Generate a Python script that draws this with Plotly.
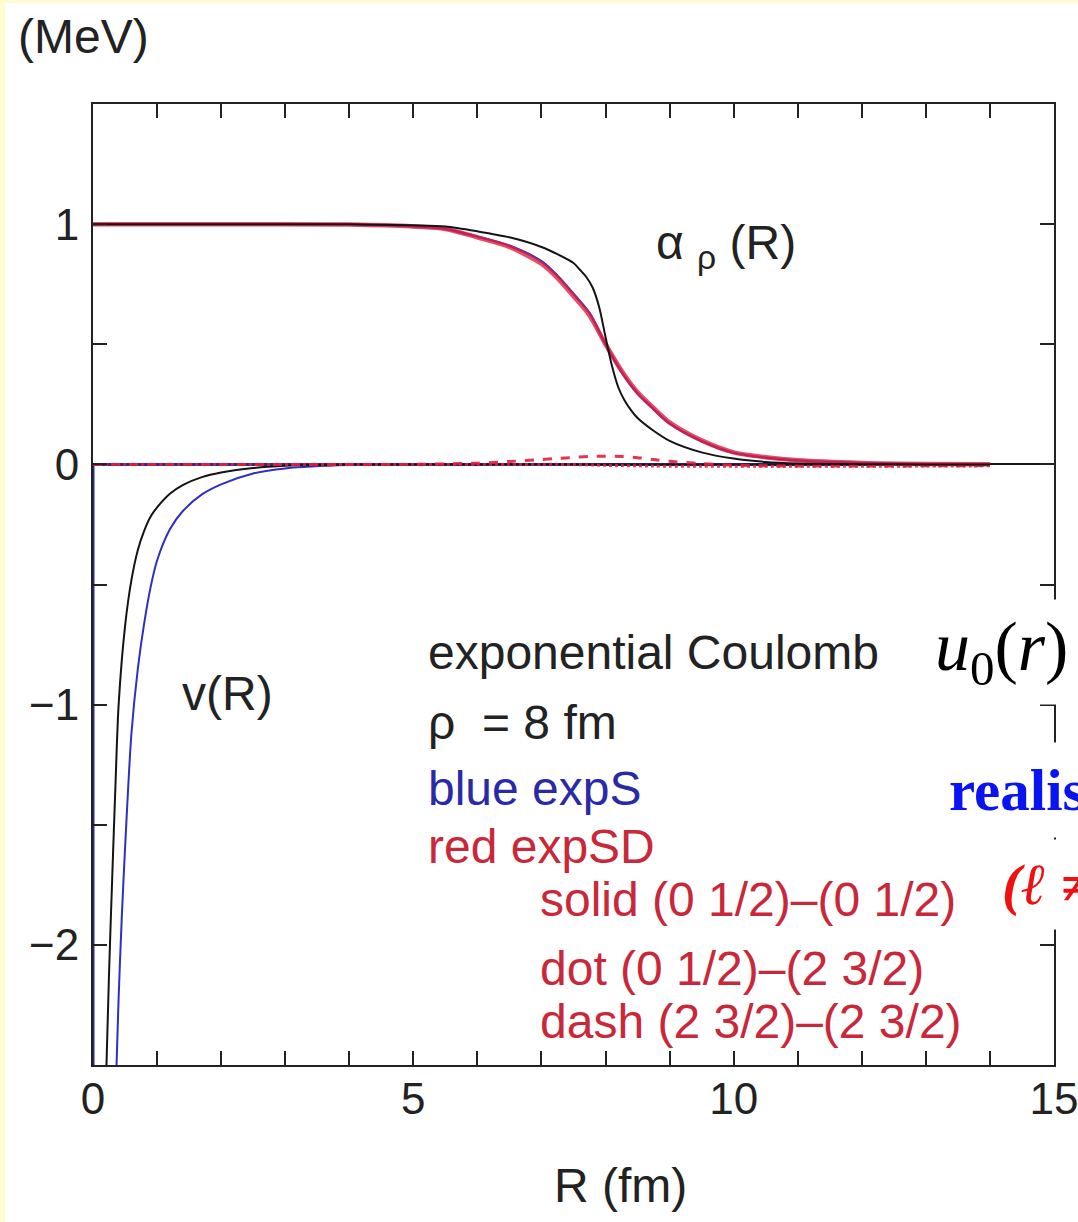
import plotly.graph_objects as go

# ---------------- data ----------------
# alpha_rho(R) for the exponential Coulomb case (black)
R_alpha_exp = [0, 2, 4, 5, 5.5, 6, 6.5, 7, 7.25, 7.5, 7.6, 7.7, 7.8, 7.9, 8.0, 8.1,
               8.2, 8.3, 8.4, 8.5, 8.75, 9, 9.5, 10, 10.5, 11, 12, 13, 14]
alpha_exp = [1.0, 1.0, 0.999, 0.995, 0.99, 0.97, 0.945, 0.905, 0.875, 0.838, 0.81,
             0.78, 0.735, 0.655, 0.53, 0.41, 0.32, 0.265, 0.225, 0.193, 0.14, 0.098,
             0.05, 0.024, 0.01, 0.004, 0.001, 0.0, 0.0]

# alpha_rho(R) for expS (blue) and expSD (red)
R_alpha = [0, 2, 4, 5, 5.5, 6, 6.5, 7, 7.25, 7.5, 7.75, 8, 8.25, 8.5, 8.75, 9, 9.5,
           10, 10.5, 11, 12, 13, 14]
alpha_expS = [1.0, 1.0, 0.998, 0.99, 0.98, 0.948, 0.91, 0.845, 0.785, 0.71, 0.63, 0.5,
              0.385, 0.295, 0.23, 0.17, 0.097, 0.048, 0.028, 0.016, 0.006, 0.002, 0.001]
alpha_expSD_solid = [1.0, 1.0, 0.998, 0.99, 0.98, 0.945, 0.905, 0.835, 0.775, 0.70,
                     0.62, 0.50, 0.39, 0.30, 0.235, 0.175, 0.10, 0.05, 0.03, 0.017,
                     0.006, 0.002, 0.001]
alpha_expSD_dot = [0, 0, 0, 0, 0, 0, 0, 0, 0, -0.001, -0.002, -0.004, -0.005, -0.006,
                   -0.007, -0.008, -0.008, -0.008, -0.008, -0.008, -0.008, -0.007, -0.006]
alpha_expSD_dash = [0, 0, 0, 0, 0.002, 0.005, 0.012, 0.02, 0.025, 0.029, 0.033, 0.034,
                    0.033, 0.028, 0.02, 0.013, 0.003, -0.003, -0.006, -0.007, -0.007,
                    -0.006, -0.005]

# v(R) : exponential Coulomb (black) and expS (blue)
R_v_exp = [0.2, 0.25, 0.3, 0.35, 0.4, 0.5, 0.6, 0.7, 0.8, 0.9, 1.0, 1.2, 1.4, 1.7,
           2.0, 2.5, 3.0, 4, 6, 8, 10, 12, 14]
v_exp = [-2.6, -2.12, -1.72, -1.34, -1.0, -0.674, -0.481, -0.356, -0.276, -0.217,
         -0.179, -0.122, -0.086, -0.053, -0.034, -0.015, -0.006, -0.001, 0, 0, 0, 0, 0]
R_v_expS = [0.35, 0.4, 0.45, 0.5, 0.6, 0.7, 0.8, 0.9, 1.0, 1.2, 1.4, 1.7, 2.0, 2.5,
            3.0, 4, 6, 8, 10, 12, 14]
v_expS = [-2.65, -2.22, -1.88, -1.6, -1.12, -0.85, -0.66, -0.51, -0.40, -0.27, -0.195,
          -0.125, -0.083, -0.038, -0.017, -0.003, 0, 0, 0, 0, 0]
# short-range part at the origin
R_v_core = [0.0, 0.0, 0.5, 14.0]
v_core = [-3.0, 0.0, 0.0, 0.0]

x_tick_vals = list(range(0, 16))
x_tick_text = ["0", "", "", "", "", "5", "", "", "", "", "10", "", "", "", "", "15"]
y_tick_vals = [-2.5, -2.0, -1.5, -1.0, -0.5, 0.0, 0.5, 1.0, 1.5]
y_tick_text = ["", "\u22122", "", "\u22121", "", "0", "", "1", ""]

# ---------------- style ----------------
BLACK = "#141414"
BLUE = "#2f2fc4"
RED = "#e2203c"
TXT = "#222222"
TXT_BLUE = "#2a2aa6"
TXT_RED = "#c9283a"
SANS = "Liberation Sans, Arial, sans-serif"
SERIF = "Liberation Serif, Times New Roman, serif"
FS_TICK = 44
FS = 48

W, H = 1078, 1222
L, R_, T, B = 93, 24, 104, 157
PW, PH = W - L - R_, H - T - B


def px_x(px):
    return (px - L) / PW


def px_y(py):
    return (H - B - py) / PH


fig = go.Figure()

fig.add_trace(go.Scatter(x=R_v_core, y=v_core, mode="lines",
                         line=dict(color="#2a2a90", width=3), name="v core"))
fig.add_trace(go.Scatter(x=R_v_expS, y=v_expS, mode="lines", line_shape="spline",
                         line=dict(color=BLUE, width=2, smoothing=0.8), name="v expS"))
fig.add_trace(go.Scatter(x=R_v_exp, y=v_exp, mode="lines", line_shape="spline",
                         line=dict(color=BLACK, width=2, smoothing=0.8), name="v exp"))
fig.add_trace(go.Scatter(x=R_alpha, y=alpha_expSD_dot, mode="lines", line_shape="spline",
                         line=dict(color=RED, width=3, dash="dot", smoothing=0.8),
                         opacity=0.85, name="dot"))
fig.add_trace(go.Scatter(x=R_alpha, y=alpha_expSD_dash, mode="lines", line_shape="spline",
                         line=dict(color=RED, width=3, dash="dash", smoothing=0.8),
                         opacity=0.9, name="dash"))
fig.add_trace(go.Scatter(x=R_alpha, y=alpha_expS, mode="lines", line_shape="spline",
                         line=dict(color=BLUE, width=2.5, smoothing=0.8), name="alpha expS"))
fig.add_trace(go.Scatter(x=R_alpha, y=alpha_expSD_solid, mode="lines", line_shape="spline",
                         line=dict(color=RED, width=4.5, smoothing=0.8), opacity=0.8,
                         name="alpha expSD"))
fig.add_trace(go.Scatter(x=R_alpha_exp, y=alpha_exp, mode="lines", line_shape="spline",
                         line=dict(color=BLACK, width=2, smoothing=0.8), name="alpha exp"))

axis_common = dict(showline=True, linecolor="#222222", linewidth=2, mirror="ticks",
                   ticks="inside", ticklen=14, tickwidth=2, tickcolor="#222222",
                   showgrid=False, ticklabeloverflow="allow", automargin=False,
                   tickfont=dict(family=SANS, size=FS_TICK, color=TXT))

fig.update_xaxes(range=[0, 15], tickmode="array", tickvals=x_tick_vals,
                 ticktext=x_tick_text, zeroline=False, ticklabelstandoff=-6,
                 **axis_common)
fig.update_yaxes(range=[-2.5, 1.5], tickmode="array", tickvals=y_tick_vals,
                 ticktext=y_tick_text, zeroline=True, zerolinecolor=BLACK,
                 zerolinewidth=1.5, ticklabelstandoff=3, **axis_common)

ann = []


def label(x, y, text, color=TXT, size=FS, family=SANS, ref="data", **kw):
    d = dict(x=x, y=y, text=text, showarrow=False, xanchor="left", yanchor="middle",
             font=dict(family=family, size=size, color=color))
    if ref == "paper":
        d.update(xref="paper", yref="paper")
    else:
        d.update(xref="x", yref="y")
    d.update(kw)
    ann.append(d)


label(8.76, 0.91, "\u03b1 <sub>\u03c1</sub> (R)")
label(1.36, -0.955, "v(R)")
label(5.2, -0.783, "exponential Coulomb")
label(5.2, -1.075, "\u03c1  = 8 fm")
label(5.2, -1.35, "blue expS", color=TXT_BLUE)
label(5.2, -1.59, "red expSD", color=TXT_RED)
label(6.95, -1.81, "solid (0 1/2)\u2013(0 1/2)", color=TXT_RED)
label(6.95, -2.10, "dot (0 1/2)\u2013(2 3/2)", color=TXT_RED)
label(6.95, -2.32, "dash (2 3/2)\u2013(2 3/2)", color=TXT_RED)

# page texts outside the frame
label(px_x(16), px_y(37), "(MeV)", ref="paper")
ann.append(dict(x=px_x(620), y=px_y(1185), xref="paper", yref="paper", text="R (fm)",
                showarrow=False, xanchor="center", yanchor="middle",
                font=dict(family=SANS, size=FS, color=TXT)))
label(px_x(926), px_y(652), "<i>u</i><sub>0</sub>(<i>r</i>)", color="#000000",
      size=70, family=SERIF, ref="paper", bgcolor="white", borderpad=8)
label(px_x(934), px_y(790), "<b>realistic</b>", color="#0a14f0", size=59,
      family=SERIF, ref="paper", bgcolor="white", borderpad=14)
label(px_x(989), px_y(884), "<b><i>(\u2113 \u2260 0)</i></b>", color="#f01010", size=58,
      family=SERIF, ref="paper", bgcolor="white", borderpad=12)

fig.update_layout(
    width=W, height=H,
    margin=dict(l=L, r=R_, t=T, b=B, pad=0),
    paper_bgcolor="#fffdd0",
    plot_bgcolor="white",
    showlegend=False,
    annotations=ann,
    shapes=[dict(type="rect", xref="paper", yref="paper", layer="below",
                 x0=px_x(5), x1=px_x(W + 20), y0=px_y(H + 20), y1=px_y(3),
                 fillcolor="white", line=dict(width=0))],
)

fig.write_html("out.html")
